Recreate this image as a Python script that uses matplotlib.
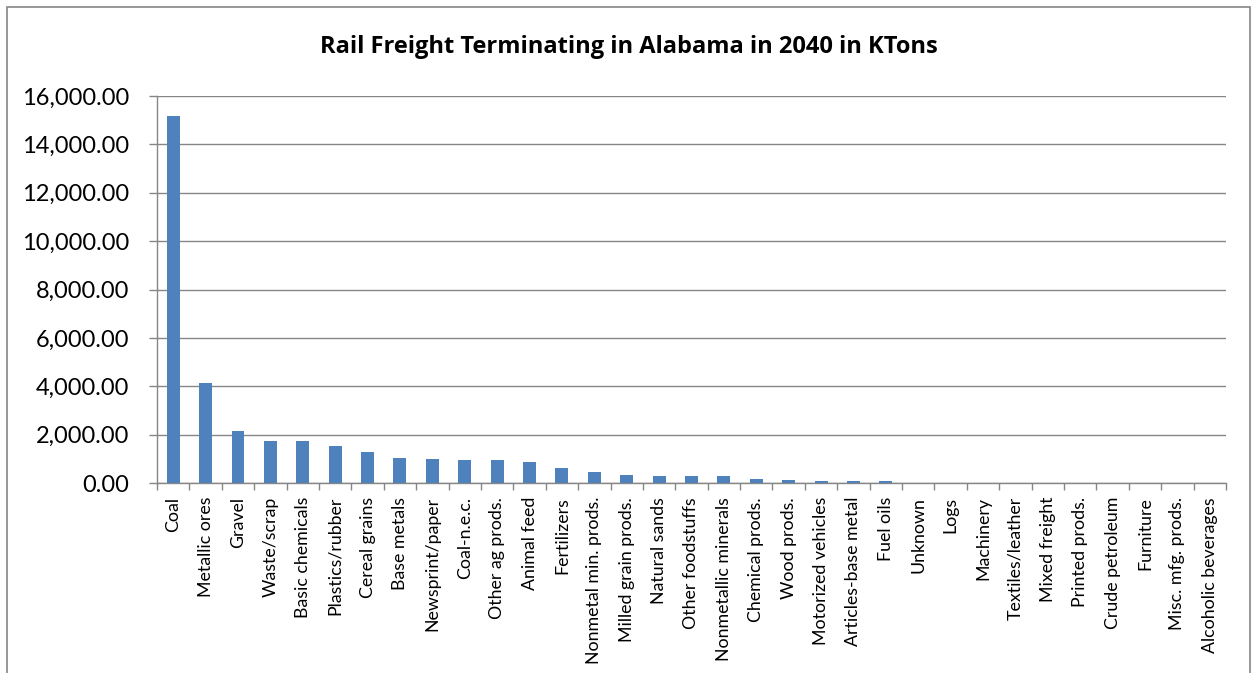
import matplotlib.pyplot as plt
import matplotlib.patches as patches
from matplotlib.ticker import FuncFormatter, FixedLocator
import numpy as np

plt.rcParams['font.family'] = ['Lato', 'DejaVu Sans']

# data (KTons)
categories = ['Coal', 'Metallic ores', 'Gravel', 'Waste/scrap', 'Basic chemicals',
              'Plastics/rubber', 'Cereal grains', 'Base metals', 'Newsprint/paper',
              'Coal-n.e.c.', 'Other ag prods.', 'Animal feed', 'Fertilizers',
              'Nonmetal min. prods.', 'Milled grain prods.', 'Natural sands',
              'Other foodstuffs', 'Nonmetallic minerals', 'Chemical prods.',
              'Wood prods.', 'Motorized vehicles', 'Articles-base metal', 'Fuel oils',
              'Unknown', 'Logs', 'Machinery', 'Textiles/leather', 'Mixed freight',
              'Printed prods.', 'Crude petroleum', 'Furniture', 'Misc. mfg. prods.',
              'Alcoholic beverages']
values = [15170, 4120, 2150, 1740, 1720, 1530, 1270, 1020, 990, 960, 950, 870, 620,
          470, 320, 310, 280, 280, 180, 120, 100, 80, 70, 10, 0, 0, 0, 0, 0, 0, 0, 0, 0]
yticks = [0, 2000, 4000, 6000, 8000, 10000, 12000, 14000, 16000]

fig = plt.figure(figsize=(12.55, 6.73), dpi=100)
ax = fig.add_axes([157 / 1255, 1 - 483 / 673, (1226 - 157) / 1255, (483 - 96) / 673])

x = np.arange(len(categories))
ax.bar(x, values, width=0.4, color='#4F81BD', zorder=3)

ax.set_xlim(-0.5, len(categories) - 0.5)
ax.set_ylim(0, 16000)
ax.set_yticks(yticks)
ax.yaxis.set_major_formatter(FuncFormatter(lambda v, p: f'{v:,.2f}'))
ax.grid(axis='y', color='#868686', linewidth=1, zorder=0)
ax.set_axisbelow(True)

# tick marks between categories, labels at centres
ax.xaxis.set_major_locator(FixedLocator(np.arange(-0.5, len(categories), 1.0)))
ax.xaxis.set_major_formatter(FuncFormatter(lambda v, p: ''))
ax.xaxis.set_minor_locator(FixedLocator(x))
ax.set_xticklabels(categories, minor=True, rotation=90, fontsize=12.8)
ax.tick_params(axis='x', which='major', length=5, color='#868686', width=1)
ax.tick_params(axis='x', which='minor', length=0, pad=10)
ax.tick_params(axis='y', length=6, color='#868686', width=1, labelsize=17, pad=14)

for s in ['top', 'right']:
    ax.spines[s].set_visible(False)
for s in ['left', 'bottom']:
    ax.spines[s].set_color('#868686')
    ax.spines[s].set_linewidth(1)

fig.text(629 / 1255, 1 - 47 / 673, 'Rail Freight Terminating in Alabama in 2040 in KTons',
         ha='center', va='center', fontsize=17, fontweight='bold',
         family=['Open Sans', 'DejaVu Sans'])

# chart frame
frame = patches.Rectangle((7 / 1255, -0.05), (1250 - 7) / 1255, 1 - 7 / 673 + 0.05,
                          transform=fig.transFigure, fill=False,
                          edgecolor='#868686', linewidth=1.2)
fig.patches.append(frame)

plt.savefig('out.png', dpi=100, facecolor='white')
